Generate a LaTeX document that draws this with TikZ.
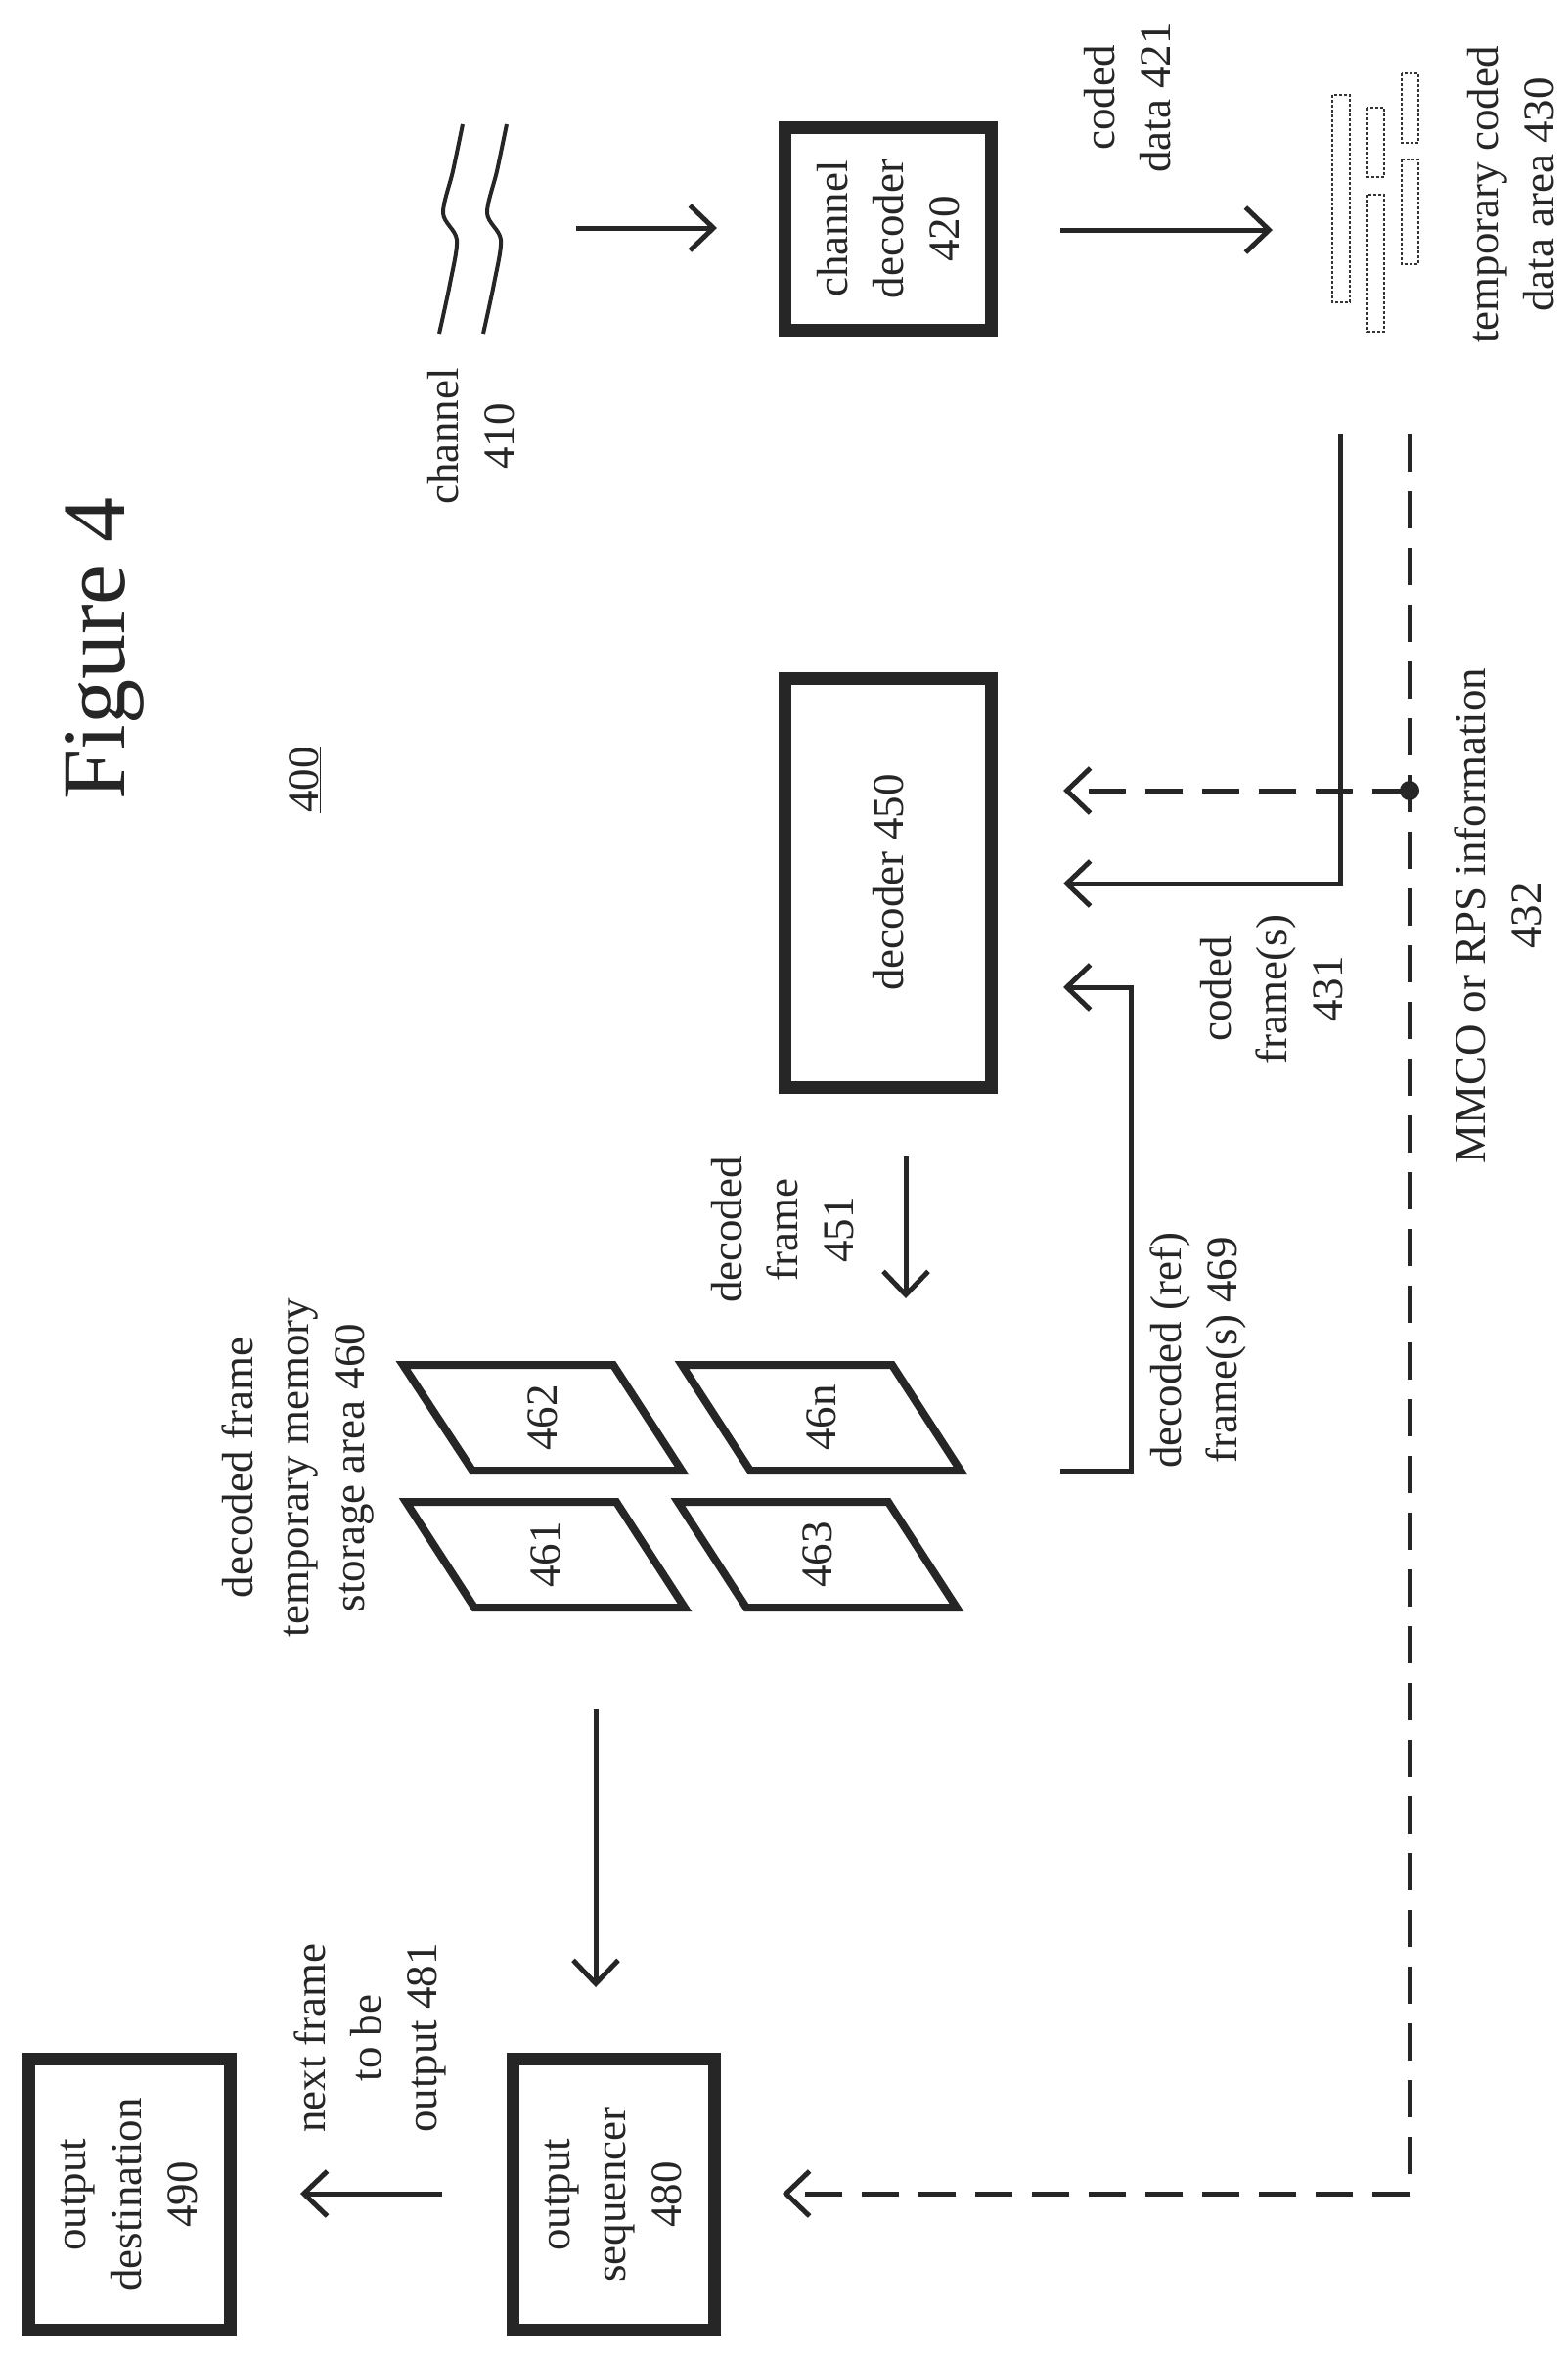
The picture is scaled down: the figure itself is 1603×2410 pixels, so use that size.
\documentclass[tikz,border=0pt]{standalone}
\usepackage{fontspec}
\setmainfont{Liberation Serif}
\usetikzlibrary{arrows.meta}
\begin{document}
\begin{tikzpicture}[x=1pt,y=-1pt,
 lbl/.style={font=\fontsize{45}{57}\selectfont, align=center, rotate=90, inner sep=0pt, text=black!85},
 blk/.style={draw=black!85, line width=13pt, rotate=90, align=center, inner sep=0pt,
   font=\fontsize{45}{57}\selectfont, text=black!85},
 conn/.style={draw=black!85, line width=5pt},
 arr/.style={conn, -{Straight Barb[length=24pt,width=46pt,line width=5pt]}},
 dsh/.style={arr, dash pattern=on 38pt off 20pt},
 frm/.style={draw=black!85, line width=8pt, line join=miter},
 tmp/.style={draw=black!80, line width=1.3pt, densely dashed},
]
\useasboundingbox (0,0) rectangle (1603,2410);

% title
\node[rotate=90, anchor=base, font=\fontsize{92}{92}\selectfont, text=black!85, inner sep=0pt] (fig) at (127,663) {Figure 4};
\node[lbl, anchor=base] (n400) at (325,797) {\underline{400}};

% channel
\draw[conn, line width=4pt] plot[smooth] coordinates {(473,127) (463,175) (453,218) (467,245) (460,290) (449,341)};
\draw[conn, line width=4pt] plot[smooth] coordinates {(518,127) (508,175) (498,218) (512,245) (505,290) (494,341)};
\node[lbl] (l410) at (482,446) {channel\\410};

% channel decoder
\node[blk, minimum width=207pt, minimum height=211pt] (b420) at (908,234) {channel\\decoder\\420};
\coordinate (a1s) at (589,233); \coordinate (a1e) at (733,233);
\draw[arr] (a1s) -- (a1e);

% coded data
\coordinate (a2s) at (1084,235); \coordinate (a2e) at (1301,235);
\draw[arr] (a2s) -- (a2e);
\node[lbl] (l421) at (1153,100) {coded\\data 421};

% temporary coded data area
\draw[tmp] (1362,97) rectangle (1380,309);
\draw[tmp] (1398,110) rectangle (1415,181);
\draw[tmp] (1398,199) rectangle (1415,339);
\draw[tmp] (1433,75) rectangle (1450,146);
\draw[tmp] (1433,163) rectangle (1450,270);
\node[lbl] (l430) at (1545,199) {temporary coded\\data area 430};

% decoder
\node[blk, minimum width=418pt, minimum height=211pt] (b450) at (908,902) {decoder 450};

% coded frames
\coordinate (cf0) at (1370,444); \coordinate (cf1) at (1370,903); \coordinate (cf2) at (1087,903);
\draw[arr] (cf0) -- (cf1) -- (cf2);
\node[lbl] (l431) at (1300,1011) {coded\\frame(s)\\431};

% MMCO dashed
\coordinate (mm0) at (1441,444); \coordinate (mmd) at (1441,808);
\coordinate (mm1) at (1441,2242); \coordinate (mm2) at (800,2242);
\coordinate (mmb) at (1087,808);
\draw[dsh] (mm0) -- (mm1) -- (mm2);
\draw[dsh] (mmd) -- (mmb);
\fill[black!85] (mmd) circle (10pt);
\node[lbl] (l432) at (1531,936) {MMCO or RPS information\\432};

% decoded ref frames
\coordinate (r0) at (1084,1503); \coordinate (r1) at (1156,1503);
\coordinate (r2) at (1156,1009); \coordinate (r3) at (1087,1009);
\draw[arr] (r0) -- (r1) -- (r2) -- (r3);
\node[lbl] (l469) at (1225,1380) {decoded (ref)\\frame(s) 469};

% decoded frame 451
\coordinate (d0) at (926,1182); \coordinate (d1) at (926,1327);
\draw[arr] (d0) -- (d1);
\node[lbl] (l451) at (800,1257) {decoded\\frame\\451};

% frame store
\draw[frm] (412,1395) -- (627,1395) -- (697,1503) -- (483,1503) -- cycle;
\node[lbl] (f462) at (555,1449) {462};
\draw[frm] (697,1395) -- (912,1395) -- (982,1503) -- (767,1503) -- cycle;
\node[lbl] (f46n) at (840,1449) {46n};
\draw[frm] (415,1535) -- (630,1535) -- (700,1643) -- (485,1643) -- cycle;
\node[lbl] (f461) at (558,1589) {461};
\draw[frm] (693,1535) -- (908,1535) -- (978,1643) -- (763,1643) -- cycle;
\node[lbl] (f463) at (836,1589) {463};
\node[lbl] (l460) at (305,1500) {decoded frame\\temporary memory\\storage area 460};

% to output sequencer
\coordinate (s0) at (609,1747); \coordinate (s1) at (609,2031);
\draw[arr] (s0) -- (s1);

% output sequencer / destination
\node[blk, minimum width=277pt, minimum height=206pt] (b480) at (627,2243) {output\\sequencer\\480};
\node[blk, minimum width=277pt, minimum height=206pt] (b490) at (132,2243) {output\\destination\\490};
\coordinate (o0) at (452,2242); \coordinate (o1) at (307,2242);
\draw[arr] (o0) -- (o1);
\node[lbl] (l481) at (378,2083) {next frame\\to be\\output 481};
\end{tikzpicture}
\end{document}
